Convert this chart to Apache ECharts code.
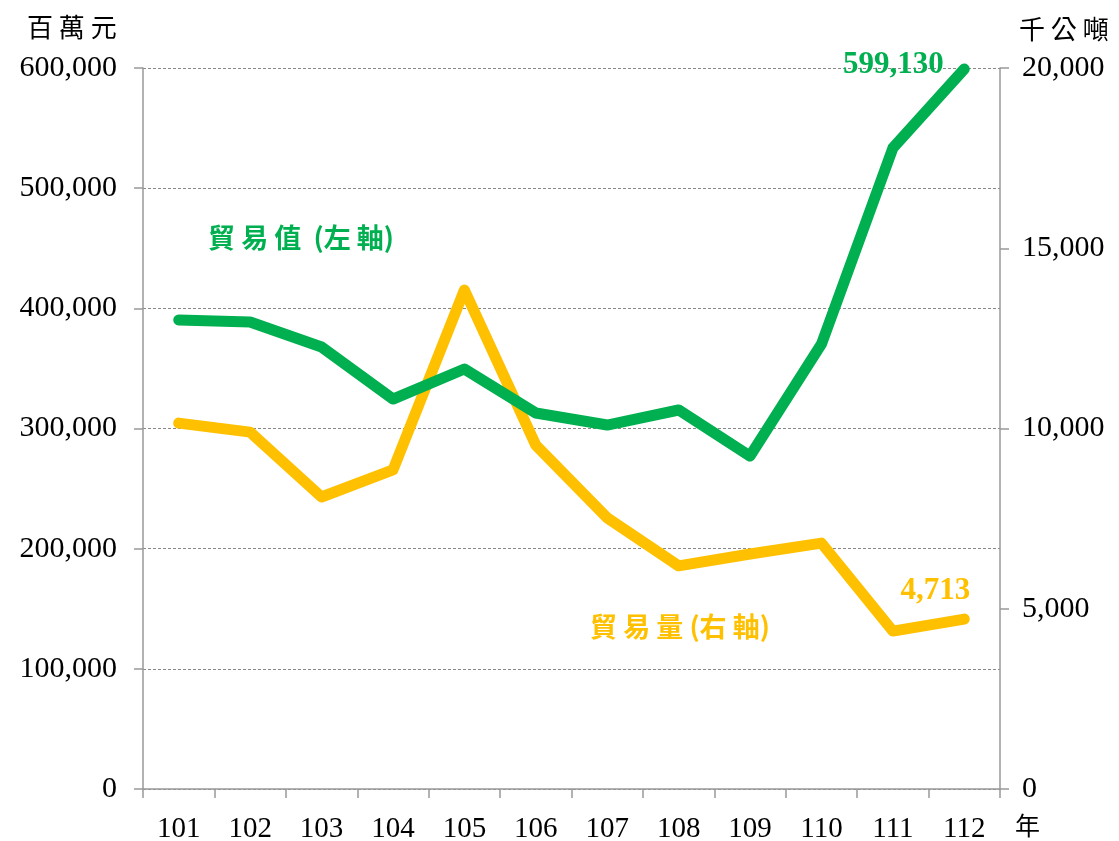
<!DOCTYPE html>
<html>
<head>
<meta charset="utf-8">
<script src="https://cdn.jsdelivr.net/npm/echarts@6/dist/echarts.min.js"></script>
<style>
html, body { margin: 0; padding: 0; background: #fff; }
#main { width: 1119px; height: 841px; }
</style>
</head>
<body>
<div id="main"></div>
<script>
var years = ['101', '102', '103', '104', '105', '106', '107', '108', '109', '110', '111', '112']
// 貿易值 (百萬元)
var tradeValue = [390300, 388600, 367800, 324500, 349500, 312900, 302900, 315400, 277100, 370300, 533400, 599130]
// 貿易量 (千公噸)
var tradeVolume = [10150, 9900, 8100, 8850, 13840, 9540, 7520, 6190, 6520, 6820, 4380, 4713]

var serif = '"Liberation Serif", "Times New Roman", serif'
var cjk = '"Noto Sans CJK TC", sans-serif'
var green = '#00B050'
var yellow = '#FFC000'

var chart = echarts.init(document.getElementById('main'))
var last = years.length - 1

function fmt (v) { return v.toLocaleString('en-US') }

// only the last point carries a label
function withEndLabel (arr, label) {
  return arr.map(function (v, i) {
    if (i !== last) return v
    return { value: v, symbol: 'circle', symbolSize: 1, label: label }
  })
}

chart.setOption({
  backgroundColor: '#fff',
  animation: false,
  grid: { left: 143, right: 119, top: 68, bottom: 52, outerBoundsMode: 'none', containLabel: false },
  xAxis: {
    type: 'category',
    data: years,
    boundaryGap: true,
    axisLine: { lineStyle: { color: '#999', width: 1.5 } },
    axisTick: { show: true, length: 9, lineStyle: { color: '#999', width: 1.5 } },
    axisLabel: { color: '#000', fontFamily: serif, fontSize: 29, margin: 26 }
  },
  yAxis: [
    {
      type: 'value',
      min: 0,
      max: 600000,
      interval: 100000,
      axisLine: { show: true, lineStyle: { color: '#999', width: 1.5 } },
      axisTick: { show: true, length: 9, lineStyle: { color: '#999', width: 1.5 } },
      axisLabel: { color: '#000', fontFamily: serif, fontSize: 30, margin: 26, formatter: fmt },
      splitLine: { lineStyle: { color: '#888', type: [3, 2], width: 1 } }
    },
    {
      type: 'value',
      min: 0,
      max: 20000,
      interval: 5000,
      position: 'right',
      axisLine: { show: true, lineStyle: { color: '#999', width: 1.5 } },
      axisTick: { show: true, length: 9, lineStyle: { color: '#999', width: 1.5 } },
      axisLabel: { color: '#000', fontFamily: serif, fontSize: 30, margin: 22, formatter: fmt },
      splitLine: { show: false }
    }
  ],
  series: [
    {
      name: '貿易量',
      type: 'line',
      yAxisIndex: 1,
      data: withEndLabel(tradeVolume, {
        show: true, position: 'top', distance: 12, offset: [-29, 0],
        color: yellow, fontFamily: serif, fontWeight: 'bold', fontSize: 31,
        formatter: function (p) { return fmt(p.value) }
      }),
      symbol: 'none',
      lineStyle: { color: yellow, width: 11, cap: 'round', join: 'round' },
      itemStyle: { color: yellow }
    },
    {
      name: '貿易值',
      type: 'line',
      yAxisIndex: 0,
      data: withEndLabel(tradeValue, {
        show: true, position: 'left', distance: 20, offset: [0, -4],
        color: green, fontFamily: serif, fontWeight: 'bold', fontSize: 31,
        formatter: function (p) { return fmt(p.value) }
      }),
      symbol: 'none',
      lineStyle: { color: green, width: 11, cap: 'round', join: 'round' },
      itemStyle: { color: green }
    }
  ],
  graphic: [
    {
      type: 'text', left: 27, top: 14,
      style: { text: '百 萬 元', font: '26px ' + cjk, fill: '#000' }
    },
    {
      type: 'text', left: 1019, top: 16,
      style: { text: '千 公 噸', font: '26px ' + cjk, fill: '#000' }
    },
    {
      type: 'text', left: 1015, top: 813,
      style: { text: '年', font: '25px ' + cjk, fill: '#000' }
    },
    {
      type: 'text', left: 208, top: 224,
      style: { text: '貿 易 值  (左 軸)', font: 'bold 27px ' + cjk, fill: green }
    },
    {
      type: 'text', left: 590, top: 613,
      style: { text: '貿 易 量 (右 軸)', font: 'bold 27px ' + cjk, fill: yellow }
    }
  ]
})
</script>
</body>
</html>
